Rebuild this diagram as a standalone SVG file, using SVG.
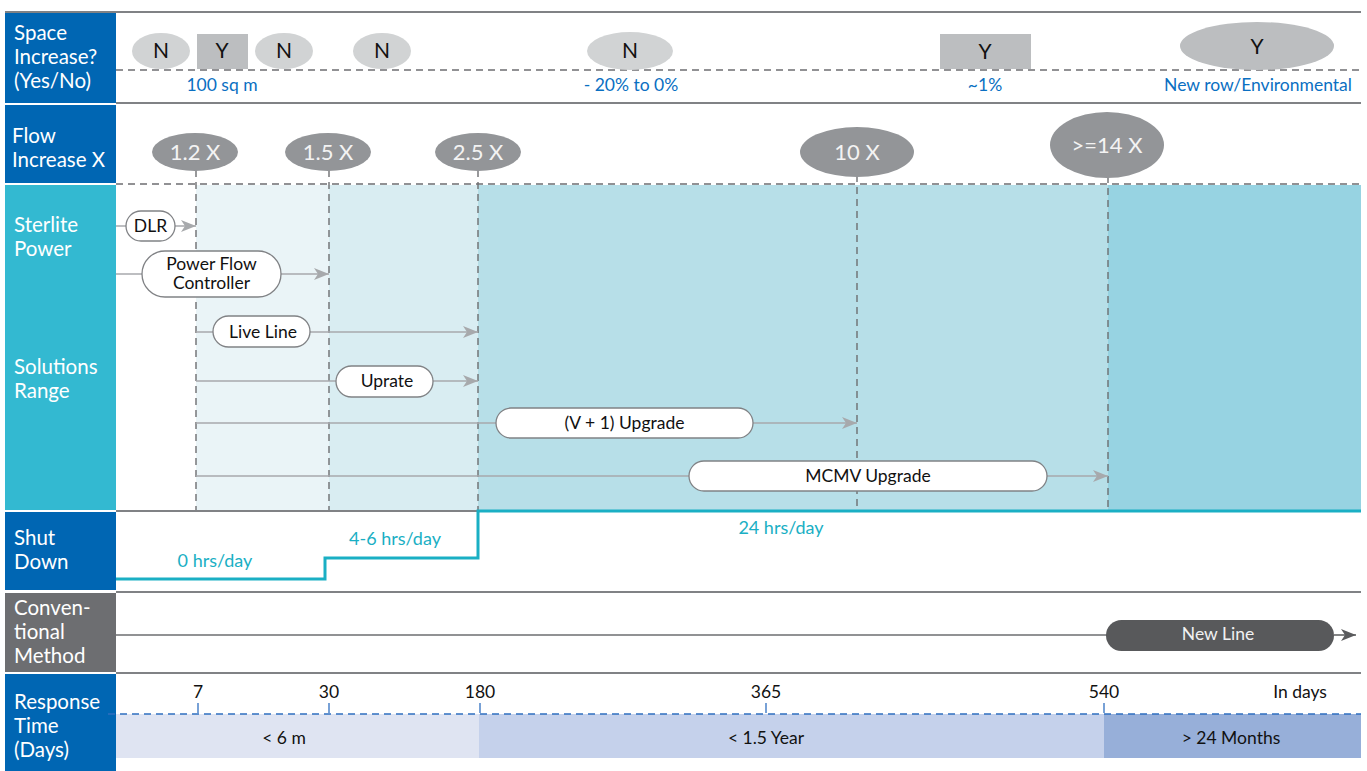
<svg xmlns="http://www.w3.org/2000/svg" width="1367" height="771" viewBox="0 0 1367 771">
<style>
text{font-family:Lato,"Open Sans","Liberation Sans",sans-serif}
.hd{fill:#fff;font-size:20.5px}
.yn{fill:#111;font-size:21px;text-anchor:middle}
.bl{fill:#0a6fc2;font-size:17.5px;text-anchor:middle}
.fx{fill:#f3f3f3;font-size:22px;text-anchor:middle}
.pl{fill:#fff;stroke:#808285;stroke-width:1.3}
.pt{fill:#111;font-size:17.5px;text-anchor:middle}
.ar{stroke:#a7a9ac;stroke-width:1.5;fill:none}
.vd{stroke:#6d6e71;stroke-width:1.4;stroke-dasharray:7 5;fill:none}
.sl{stroke:#808285;stroke-width:2;fill:none}
.tl{fill:#1aafc4;font-size:18px;text-anchor:middle}
.rt{fill:#111;font-size:17.5px;text-anchor:middle}
.tk{stroke:#2f6fc0;stroke-width:1.3}
</style>
<defs>
<marker id="ah" markerWidth="16" markerHeight="12" refX="15" refY="6" orient="auto" markerUnits="userSpaceOnUse">
<path d="M0,0 L15,6 L0,12 L4,6 Z" fill="#a7a9ac"/>
</marker>
<marker id="ahd" markerWidth="16" markerHeight="12" refX="15" refY="6" orient="auto" markerUnits="userSpaceOnUse">
<path d="M0,0 L15,6 L0,12 L4,6 Z" fill="#5a5b5d"/>
</marker>
</defs>
<rect width="1367" height="771" fill="#fff"/>

<g id="bands">
<rect x="196" y="185" width="133" height="325" fill="#eaf4f7"/>
<rect x="329" y="185" width="149" height="325" fill="#d9edf2"/>
<rect x="478" y="185" width="630" height="325" fill="#b7dfe8"/>
<rect x="1108" y="185" width="253" height="325" fill="#97d3e2"/>
<rect x="116" y="714" width="363" height="44" fill="#dfe4f2"/>
<rect x="479" y="714" width="625" height="44" fill="#c5d1eb"/>
<rect x="1104" y="714" width="257" height="44" fill="#97afd9"/>
</g>

<g id="headers">
<rect x="5" y="12" width="111" height="91" fill="#0066b3"/>
<rect x="5" y="105" width="111" height="78" fill="#0066b3"/>
<rect x="5" y="185" width="111" height="325" fill="#33b9d1"/>
<rect x="5" y="512" width="111" height="78" fill="#0066b3"/>
<rect x="5" y="593" width="111" height="79" fill="#6d6e71"/>
<rect x="5" y="674" width="111" height="97" fill="#0066b3"/>
<text class="hd" x="14" y="40">Space</text>
<text class="hd" x="14" y="64">Increase?</text>
<text class="hd" x="14" y="88">(Yes/No)</text>
<text class="hd" x="12" y="143">Flow</text>
<text class="hd" x="12" y="167">Increase X</text>
<text class="hd" x="14" y="232">Sterlite</text>
<text class="hd" x="14" y="256">Power</text>
<text class="hd" x="14" y="374">Solutions</text>
<text class="hd" x="14" y="398">Range</text>
<text class="hd" x="14" y="545">Shut</text>
<text class="hd" x="14" y="569">Down</text>
<text class="hd" x="14" y="615">Conven-</text>
<text class="hd" x="14" y="639">tional</text>
<text class="hd" x="14" y="663">Method</text>
<text class="hd" x="14" y="709">Response</text>
<text class="hd" x="14" y="733">Time</text>
<text class="hd" x="14" y="757">(Days)</text>
</g>

<g id="grid">
<line class="sl" x1="5" y1="12" x2="1361" y2="12"/>
<line class="sl" x1="116" y1="103" x2="1361" y2="103"/>
<line x1="116" y1="70" x2="1361" y2="70" stroke="#6d6e71" stroke-width="1.4" stroke-dasharray="7 5"/>
<line x1="116" y1="184" x2="1361" y2="184" stroke="#6d6e71" stroke-width="1.4" stroke-dasharray="7 5"/>
<line class="sl" x1="116" y1="511" x2="478" y2="511"/>
<line class="sl" x1="116" y1="592" x2="1361" y2="592"/>
<line class="sl" x1="116" y1="673" x2="1361" y2="673"/>
<line x1="108" y1="714" x2="1361" y2="714" stroke="#2f6fc0" stroke-width="1.3" stroke-dasharray="7 5"/>
</g>

<g id="space">
<ellipse cx="161" cy="51" rx="29" ry="18" fill="#d1d3d4"/><text class="yn" x="161" y="58">N</text>
<rect x="197" y="34" width="51" height="35" fill="#bcbec0"/><text class="yn" x="222" y="58">Y</text>
<ellipse cx="284" cy="51" rx="29" ry="18" fill="#d1d3d4"/><text class="yn" x="284" y="58">N</text>
<ellipse cx="382" cy="51" rx="29" ry="18" fill="#d1d3d4"/><text class="yn" x="382" y="58">N</text>
<ellipse cx="630" cy="51" rx="43" ry="19" fill="#d1d3d4"/><text class="yn" x="630" y="58">N</text>
<rect x="940" y="34" width="91" height="35" fill="#bcbec0"/><text class="yn" x="985" y="59">Y</text>
<ellipse cx="1257" cy="46" rx="77" ry="24" fill="#bcbec0"/><text class="yn" x="1257" y="54">Y</text>
<text class="bl" x="222" y="91">100 sq m</text>
<text class="bl" x="631" y="91">- 20% to 0%</text>
<text class="bl" x="985" y="91">~1%</text>
<text class="bl" x="1258" y="91">New row/Environmental</text>
</g>

<g id="flow">
<line class="vd" x1="196" y1="170" x2="196" y2="510"/>
<line class="vd" x1="329" y1="170" x2="329" y2="510"/>
<line class="vd" x1="478" y1="170" x2="478" y2="510"/>
<line class="vd" x1="857" y1="175" x2="857" y2="510"/>
<line class="vd" x1="1108" y1="176" x2="1108" y2="510"/>
<ellipse cx="195" cy="152" rx="43" ry="19" fill="#939598"/><text class="fx" x="195" y="160">1.2 X</text>
<ellipse cx="328" cy="152" rx="43" ry="19" fill="#939598"/><text class="fx" x="328" y="160">1.5 X</text>
<ellipse cx="478" cy="152" rx="43" ry="19" fill="#939598"/><text class="fx" x="478" y="160">2.5 X</text>
<ellipse cx="857" cy="152" rx="57" ry="25" fill="#939598"/><text class="fx" x="857" y="160">10 X</text>
<ellipse cx="1107" cy="145" rx="57" ry="33" fill="#939598"/><text class="fx" x="1107" y="153">&gt;=14 X</text>
</g>

<g id="connectors">
<line class="ar" x1="116" y1="226" x2="126" y2="226"/>
<line class="ar" x1="175" y1="226" x2="196" y2="226" marker-end="url(#ah)"/>
<line class="ar" x1="116" y1="274" x2="142" y2="274"/>
<line class="ar" x1="281" y1="274" x2="329" y2="274" marker-end="url(#ah)"/>
<line class="ar" x1="196" y1="332" x2="213" y2="332"/>
<line class="ar" x1="310" y1="332" x2="478" y2="332" marker-end="url(#ah)"/>
<line class="ar" x1="196" y1="381" x2="336" y2="381"/>
<line class="ar" x1="433" y1="381" x2="478" y2="381" marker-end="url(#ah)"/>
<line class="ar" x1="196" y1="423" x2="496" y2="423"/>
<line class="ar" x1="753" y1="423" x2="857" y2="423" marker-end="url(#ah)"/>
<line class="ar" x1="196" y1="476" x2="689" y2="476"/>
<line class="ar" x1="1047" y1="476" x2="1108" y2="476" marker-end="url(#ah)"/>
<line x1="116" y1="635" x2="1111" y2="635" stroke="#6d6e71" stroke-width="1.5"/>
<line x1="1334" y1="635" x2="1356" y2="635" stroke="#5a5b5d" stroke-width="1.5" marker-end="url(#ahd)"/>
</g>

<g id="dlr"><rect class="pl" x="126" y="211" width="49" height="30" rx="15"/><text class="pt" x="150.5" y="232">DLR</text></g>
<g id="pfc"><rect class="pl" x="142" y="251" width="139" height="46" rx="23"/><text class="pt" x="211.5" y="270">Power Flow</text><text class="pt" x="211.5" y="289">Controller</text></g>
<g id="liveline"><rect class="pl" x="213" y="316" width="97" height="31" rx="15.5"/><text class="pt" x="263" y="338">Live Line</text></g>
<g id="uprate"><rect class="pl" x="336" y="366" width="97" height="31" rx="15.5"/><text class="pt" x="387" y="387">Uprate</text></g>
<g id="v1"><rect class="pl" x="496" y="408" width="257" height="30" rx="15"/><text class="pt" x="624.5" y="429">(V + 1) Upgrade</text></g>
<g id="mcmv"><rect class="pl" x="689" y="461" width="358" height="30" rx="15"/><text class="pt" x="868" y="482">MCMV Upgrade</text></g>

<g id="shutdown">
<path d="M116,579 H325 V558 H478 V511 H1361" fill="none" stroke="#1aafc4" stroke-width="3"/>
<text class="tl" x="215" y="567">0 hrs/day</text>
<text class="tl" x="395" y="545">4-6 hrs/day</text>
<text class="tl" x="781" y="534">24 hrs/day</text>
</g>

<g id="newline"><rect x="1106" y="620" width="228" height="31" rx="15.5" fill="#58595b"/><text x="1218" y="640" fill="#f1f1f2" font-size="17.5" text-anchor="middle">New Line</text></g>

<g id="response">
<line class="tk" x1="198" y1="703" x2="198" y2="713"/>
<line class="tk" x1="329" y1="703" x2="329" y2="713"/>
<line class="tk" x1="480" y1="703" x2="480" y2="713"/>
<line class="tk" x1="766" y1="703" x2="766" y2="713"/>
<line class="tk" x1="1104" y1="703" x2="1104" y2="713"/>
<text class="rt" x="198" y="698">7</text>
<text class="rt" x="329" y="698">30</text>
<text class="rt" x="480" y="698">180</text>
<text class="rt" x="766" y="698">365</text>
<text class="rt" x="1104" y="698">540</text>
<text class="rt" x="1300" y="698">In days</text>
<text class="rt" x="284" y="744">&lt; 6 m</text>
<text class="rt" x="766" y="744">&lt; 1.5 Year</text>
<text class="rt" x="1231" y="744">&gt; 24 Months</text>
</g>
</svg>
